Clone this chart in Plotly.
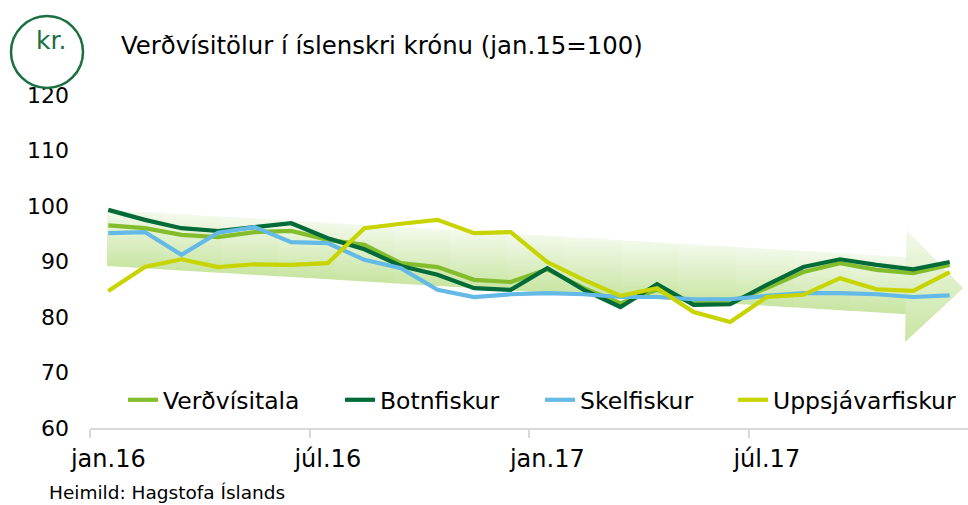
import plotly.graph_objects as go

# ---------------- data ----------------
months = ["jan.16", "feb.16", "mar.16", "apr.16", "maí.16", "jún.16",
          "júl.16", "ágú.16", "sep.16", "okt.16", "nóv.16", "des.16",
          "jan.17", "feb.17", "mar.17", "apr.17", "maí.17", "jún.17",
          "júl.17", "ágú.17", "sep.17", "okt.17", "nóv.17", "des.17"]

verdvisitala = [96.5, 96.0, 94.8, 94.4, 95.3, 95.5, 93.9, 93.0, 89.7, 89.0, 86.7, 86.3,
                88.6, 85.2, 82.5, 84.9, 82.5, 82.7, 85.2, 88.1, 89.7, 88.5, 87.9, 89.4]
botnfiskur = [99.3, 97.5, 96.0, 95.5, 96.2, 96.9, 94.2, 92.2, 89.2, 87.6, 85.2, 84.9,
              88.8, 84.9, 81.8, 85.9, 82.2, 82.3, 85.8, 89.0, 90.4, 89.4, 88.6, 89.9]
skelfiskur = [95.1, 95.3, 91.2, 95.2, 96.2, 93.5, 93.3, 90.3, 88.8, 84.9, 83.6, 84.1,
              84.3, 84.1, 83.6, 83.6, 83.2, 83.2, 83.8, 84.3, 84.3, 84.1, 83.6, 83.9]
uppsjavarfiskur = [84.7, 89.0, 90.4, 89.0, 89.5, 89.4, 89.7, 96.0, 96.8, 97.5, 95.1, 95.3,
                   89.9, 86.7, 83.8, 85.2, 80.9, 79.1, 83.6, 84.0, 87.0, 85.0, 84.7, 88.1]

series_names = ["Verðvísitala", "Botnfiskur", "Skelfiskur", "Uppsjávarfiskur"]
series_values = [verdvisitala, botnfiskur, skelfiskur, uppsjavarfiskur]
tick_idx = [0, 6, 12, 18]
y_ticks = [60, 70, 80, 90, 100, 110, 120]

title_text = "Verðvísitölur í íslenskri krónu (jan.15=100)"
unit_text = "kr."
source_text = "Heimild: Hagstofa Íslands"

# ---------------- style ----------------
colors = ["#84bd2c", "#006a38", "#64b9e6", "#c8d400"]
FONT = "DejaVu Sans"
W, H = 968, 505
ML, MR, MT, MB = 90, 0, 95, 77
PW, PH = W - ML - MR, H - MT - MB

def px(x):
    return (x - ML) / PW

def py(y):
    return (H - MB - y) / PH

# legend text start positions (pixels) for each entry
legend_text_x = [163, 380, 580, 773]
legend_keys = ["legend", "legend2", "legend3", "legend4"]

# decorative background arrow (x in month-index units, y in index units)
shaft_left, shaft_right = -0.035, 21.84
shaft_top = (99.3, 90.8)
shaft_bot = (89.2, 80.5)
head = dict(x_back=21.82, top=95.7, tip_x=23.37, tip_y=85.2, bottom=75.5)
pale, green = "#f2f9ea", "#c8e5a2"

fig = go.Figure()

K = 14
def lerp(pair, x):
    t = (x - shaft_left) / (shaft_right - shaft_left)
    return pair[0] + (pair[1] - pair[0]) * t

for k in range(K):
    xa = shaft_left + (shaft_right - shaft_left) * k / K
    xb = min(shaft_left + (shaft_right - shaft_left) * (k + 1) / K + 0.05, shaft_right)
    ta, tb = lerp(shaft_top, xa), lerp(shaft_top, xb)
    ba, bb = lerp(shaft_bot, xa), lerp(shaft_bot, xb)
    xm = (xa + xb) / 2
    fig.add_trace(go.Scatter(
        x=[xa, xb, xb, xa, xa], y=[ta, tb, bb, ba, ta],
        mode="lines", line=dict(width=0), fill="toself",
        fillgradient=dict(type="vertical", colorscale=[[0, green], [1, pale]],
                          start=lerp(shaft_bot, xm), stop=lerp(shaft_top, xm)),
        hoverinfo="skip", showlegend=False))

fig.add_trace(go.Scatter(
    x=[head["x_back"], head["tip_x"], head["x_back"] - 0.04, head["x_back"]],
    y=[head["top"], head["tip_y"], head["bottom"], head["top"]],
    mode="lines", line=dict(width=0), fill="toself",
    fillgradient=dict(type="vertical", colorscale=[[0, green], [1, pale]],
                      start=head["bottom"], stop=head["top"]),
    hoverinfo="skip", showlegend=False))

x_idx = list(range(len(months)))
for name, vals, col, lg in zip(series_names, series_values, colors, legend_keys):
    fig.add_trace(go.Scatter(x=x_idx, y=vals, name=name, mode="lines",
                             line=dict(color=col, width=4.2), legend=lg))

legend_layout = {}
for lg, tx in zip(legend_keys, legend_text_x):
    legend_layout[lg] = dict(orientation="h", x=px(tx - 40), y=py(400),
                             xanchor="left", yanchor="middle",
                             font=dict(size=23.5, family=FONT, color="#000000"),
                             bgcolor="rgba(0,0,0,0)", itemwidth=30)

fig.update_layout(
    width=W, height=H,
    margin=dict(l=ML, r=MR, t=MT, b=MB),
    paper_bgcolor="white", plot_bgcolor="white",
    font=dict(family=FONT, color="#000000"),
    showlegend=True,
    xaxis=dict(range=[-0.5, len(months) - 0.5], tickmode="array",
               tickvals=tick_idx, ticktext=[months[i] for i in tick_idx],
               ticks="", showgrid=False, zeroline=False,
               showline=True, linecolor="#d9d9d9", linewidth=1.5,
               tickfont=dict(size=24, family=FONT), ticklabelstandoff=8,
               minor=dict(tickvals=[i - 0.5 for i in tick_idx], ticks="outside",
                          ticklen=8, tickcolor="#d9d9d9", tickwidth=1.5, showgrid=False)),
    yaxis=dict(range=[60, 120], tickvals=y_ticks, ticks="", showgrid=False,
               zeroline=False, showline=False, tickfont=dict(size=22, family=FONT),
               ticklabelstandoff=20),
    **legend_layout,
)

fig.add_shape(type="circle", xref="paper", yref="paper",
              x0=px(11), x1=px(83), y0=py(88), y1=py(16),
              line=dict(color="#1b7040", width=2.5), fillcolor="rgba(0,0,0,0)")
fig.add_annotation(text=unit_text, xref="paper", yref="paper", x=px(51), y=py(40),
                   showarrow=False, xanchor="center", yanchor="middle",
                   font=dict(size=25, color="#1b7040", family=FONT))
fig.add_annotation(text=title_text, xref="paper", yref="paper", x=px(119), y=py(45),
                   showarrow=False, xanchor="left", yanchor="middle",
                   font=dict(size=24.4, color="#000000", family=FONT))
fig.add_annotation(text=source_text, xref="paper", yref="paper", x=px(47), y=py(492),
                   showarrow=False, xanchor="left", yanchor="middle",
                   font=dict(size=18.5, color="#000000", family=FONT))

fig.write_html("out.html", config={"displayModeBar": False},
               post_script="document.body.style.margin='0px';")
